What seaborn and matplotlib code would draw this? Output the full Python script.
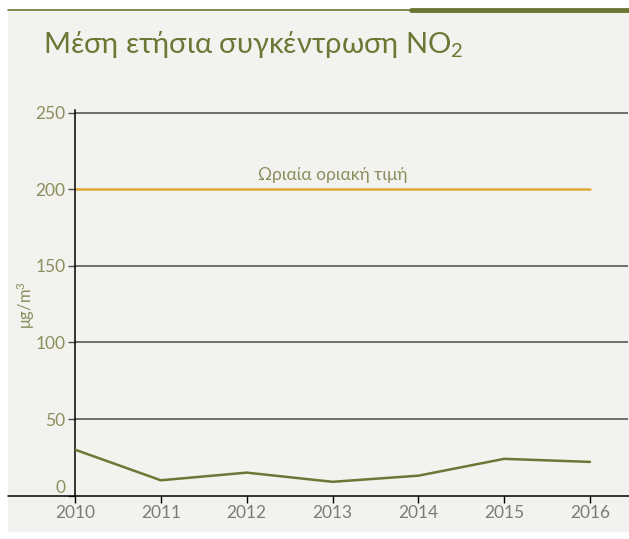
import matplotlib
matplotlib.use("Agg")
import matplotlib.pyplot as plt
import seaborn as sns
import pandas as pd
from matplotlib.patches import Rectangle
from matplotlib.lines import Line2D

# data
years = [2010, 2011, 2012, 2013, 2014, 2015, 2016]
no2_mean = [30, 10, 15, 9, 13, 24, 22]
limit_value = 200
limit_label = "Ωριαία οριακή τιμή"
y_ticks = [0, 50, 100, 150, 200, 250]

title = "Μέση ετήσια συγκέντρωση NO$_\\mathrm{2}$"
y_label = "μg/m$^\\mathrm{3}$"

olive = "#6c7735"
olive_text = "#8a8f5e"
bg = "#f3f2ee"
grid_col = "#4a4a4a"
limit_col = "#dca83a"

sns.set_theme(style="white")
plt.rcParams["font.family"] = ["Lato", "DejaVu Sans"]
plt.rcParams["mathtext.fontset"] = "custom"
plt.rcParams["mathtext.rm"] = "Lato"
plt.rcParams["mathtext.it"] = "Lato"

df = pd.DataFrame({"year": years, "no2": no2_mean})

fig = plt.figure(figsize=(6.29, 5.39), dpi=100)
fig.patch.set_facecolor("white")

# panel background and top rule
fig.patches.append(Rectangle((8 / 629, 1 - 532 / 539), 1 - 8 / 629, (532 - 10) / 539,
                             transform=fig.transFigure, facecolor=bg, edgecolor="none", zorder=-5))
fig.lines.append(Line2D([8 / 629, 411 / 629], [1 - 9.5 / 539] * 2, transform=fig.transFigure,
                        color=olive, lw=1.2))
fig.lines.append(Line2D([411 / 629, 1], [1 - 9.5 / 539] * 2, transform=fig.transFigure,
                        color=olive, lw=3.5))

ax = fig.add_axes([75 / 629, 1 - 495.6 / 539, (628 - 75) / 629, 386 / 539])
ax.set_facecolor("none")
ax.set_zorder(2)

for v in y_ticks[1:]:
    if v != limit_value:
        ax.axhline(v, color=grid_col, lw=1.1, zorder=1)

ax.plot([years[0], years[-1]], [limit_value, limit_value], color=limit_col, lw=1.8, zorder=2)
ax.text(years[3], limit_value + 4, limit_label, ha="center", va="bottom",
        color=olive_text, fontsize=12.5)

sns.lineplot(data=df, x="year", y="no2", ax=ax, color=olive, lw=1.8, zorder=3)

ax.set_xlim(years[0], years[0] + (628 - 75) / (515 / 6))
ax.set_ylim(0, 252)
ax.set_yticks(y_ticks)
ax.set_xticks(years)
ax.set_yticklabels([str(v) for v in y_ticks], color=olive_text, fontsize=12.5)
ax.set_xticklabels([str(y) for y in years], color="#7b7b7b", fontsize=12.5)
ax.get_yticklabels()[0].set_va("bottom")
ax.set_xlabel("")
ax.set_ylabel("")

for side in ["top", "right", "bottom"]:
    ax.spines[side].set_visible(False)
ax.spines["left"].set_color("black")
ax.spines["left"].set_linewidth(1.1)
ax.tick_params(axis="y", length=5, width=1, color=grid_col, left=True, pad=2)
ax.tick_params(axis="x", length=5, width=1, color="black", bottom=True, pad=2)

# x-axis baseline spanning the panel
fig.lines.append(Line2D([8 / 629, 1], [1 - 495.6 / 539] * 2, transform=fig.transFigure,
                        color="black", lw=1.1))

fig.text(26 / 629, 1 - 305 / 539, y_label, color=olive_text, fontsize=12,
         rotation=90, ha="center", va="center")
fig.text(43 / 629, 1 - 53 / 539, title, color=olive, fontsize=21, ha="left", va="baseline")

fig.savefig("out.png", dpi=100, facecolor="white")
